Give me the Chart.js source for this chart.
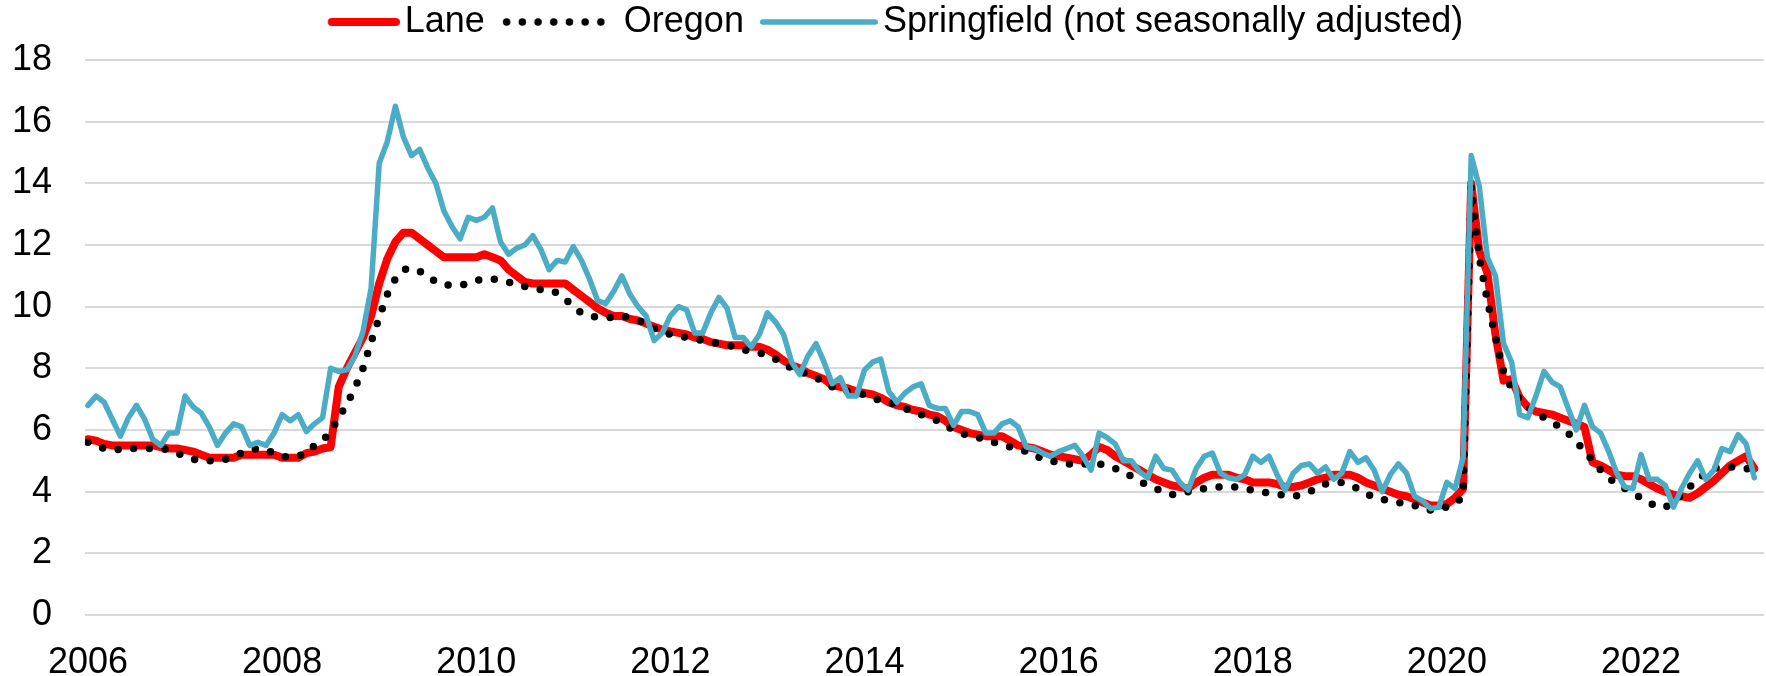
<!DOCTYPE html>
<html>
<head>
<meta charset="utf-8">
<script src="https://cdn.jsdelivr.net/npm/chart.js@4.4.1/dist/chart.umd.min.js"></script>
<style>
html,body{margin:0;padding:0;background:#ffffff;}
#wrap{width:1766px;height:676px;position:relative;}
</style>
</head>
<body>
<div id="wrap"><canvas id="c" width="1766" height="676"></canvas></div>
<script>
// Tick labels (one every two years, placed on January of that year)
const xTickLabels = ['2006','2008','2010','2012','2014','2016','2018','2020','2022'];

// Series (monthly, Jan 2006 - Mar 2023)
const lane = [
  5.7,5.65,5.55,5.5,5.5,5.5,5.5,5.5,5.5,5.45,5.4,5.4,
  5.35,5.3,5.2,5.1,5.1,5.1,5.1,5.2,5.2,5.2,5.2,5.2,
  5.1,5.1,5.1,5.25,5.3,5.4,5.45,7.4,8.0,8.5,9.0,9.7,
  10.75,11.55,12.1,12.4,12.4,12.2,12.0,11.8,11.6,11.6,11.6,11.6,
  11.6,11.7,11.6,11.5,11.2,11.0,10.8,10.75,10.75,10.75,10.75,10.75,
  10.55,10.35,10.15,9.95,9.8,9.7,9.7,9.6,9.55,9.45,9.35,9.25,
  9.2,9.15,9.1,9.0,8.95,8.85,8.8,8.75,8.75,8.75,8.7,8.7,
  8.6,8.45,8.25,8.1,8.0,7.85,7.75,7.65,7.45,7.4,7.35,7.25,
  7.2,7.15,7.05,6.9,6.8,6.75,6.65,6.6,6.5,6.45,6.3,6.1,
  6.0,5.9,5.85,5.8,5.8,5.8,5.65,5.5,5.45,5.4,5.3,5.2,
  5.15,5.1,5.05,5.0,5.2,5.45,5.35,5.15,5.0,4.85,4.7,4.55,
  4.4,4.3,4.2,4.15,4.1,4.3,4.45,4.55,4.55,4.55,4.45,4.4,
  4.3,4.3,4.3,4.25,4.15,4.15,4.2,4.3,4.4,4.45,4.55,4.55,
  4.55,4.45,4.3,4.2,4.1,4.0,3.9,3.85,3.75,3.65,3.55,3.55,
  3.6,3.8,4.1,14.0,11.8,11.1,9.1,7.6,7.65,7.05,6.75,6.6,
  6.55,6.5,6.4,6.3,6.2,6.1,4.95,4.85,4.7,4.55,4.5,4.5,
  4.4,4.25,4.1,4.0,3.9,3.85,3.8,3.95,4.15,4.35,4.6,4.85,
  5.0,5.15,4.75
];
const oregon = [
  5.6,5.5,5.4,5.4,5.35,5.4,5.4,5.4,5.4,5.4,5.35,5.25,
  5.15,5.05,5.0,5.0,5.0,5.05,5.15,5.25,5.35,5.4,5.35,5.25,
  5.15,5.1,5.15,5.25,5.5,5.65,5.95,6.4,6.85,7.35,8.0,8.85,
  9.65,10.4,10.9,11.2,11.25,11.15,11.0,10.8,10.7,10.7,10.7,10.75,
  10.85,10.9,10.9,10.85,10.8,10.7,10.65,10.6,10.55,10.55,10.45,10.25,
  10.0,9.8,9.7,9.65,9.65,9.65,9.7,9.65,9.55,9.45,9.3,9.2,
  9.1,9.05,9.0,8.95,8.9,8.85,8.8,8.75,8.7,8.6,8.55,8.5,
  8.4,8.3,8.15,8.0,7.9,7.8,7.7,7.55,7.4,7.3,7.25,7.2,
  7.15,7.05,6.95,6.9,6.8,6.7,6.6,6.5,6.4,6.3,6.15,6.0,
  5.9,5.8,5.75,5.7,5.6,5.5,5.45,5.4,5.3,5.2,5.05,5.0,
  4.95,4.9,4.9,4.9,4.9,4.9,4.85,4.75,4.65,4.5,4.35,4.2,
  4.1,4.0,3.9,3.95,4.0,4.05,4.1,4.15,4.15,4.15,4.15,4.1,
  4.05,4.0,3.95,3.9,3.9,3.85,3.9,4.0,4.1,4.25,4.3,4.3,
  4.2,4.1,3.95,3.8,3.75,3.7,3.65,3.6,3.55,3.45,3.4,3.45,
  3.5,3.6,3.85,13.9,11.6,10.2,9.0,7.9,7.35,7.0,6.75,6.55,
  6.4,6.25,6.1,5.9,5.6,5.35,5.0,4.7,4.45,4.25,4.1,3.95,
  3.8,3.65,3.5,3.5,3.65,3.9,4.15,4.4,4.6,4.75,4.8,4.8,
  4.8,4.75,4.7
];
const springfield = [
  6.8,7.1,6.9,6.35,5.8,6.4,6.8,6.35,5.7,5.5,5.9,5.9,
  7.1,6.75,6.55,6.1,5.5,5.9,6.2,6.1,5.5,5.6,5.5,5.9,
  6.5,6.3,6.5,5.95,6.2,6.4,8.0,7.9,7.95,8.4,9.2,10.6,
  14.65,15.35,16.5,15.5,14.9,15.1,14.5,14.0,13.1,12.6,12.2,12.9,
  12.8,12.9,13.2,12.1,11.7,11.9,12.0,12.3,11.85,11.2,11.5,11.45,
  11.95,11.5,10.9,10.2,10.1,10.5,11.0,10.4,10.0,9.7,8.9,9.15,
  9.7,10.0,9.9,9.15,9.15,9.8,10.3,9.95,9.0,9.0,8.7,9.1,
  9.8,9.5,9.1,8.2,7.8,8.4,8.8,8.2,7.5,7.7,7.1,7.1,
  7.95,8.2,8.3,7.25,6.9,7.2,7.4,7.5,6.8,6.7,6.7,6.15,
  6.6,6.6,6.5,5.9,5.9,6.2,6.3,6.1,5.45,5.4,5.25,5.15,
  5.3,5.4,5.5,5.15,4.7,5.9,5.75,5.55,5.0,5.0,4.65,4.45,
  5.15,4.75,4.7,4.3,4.05,4.75,5.15,5.25,4.6,4.45,4.4,4.55,
  5.15,4.95,5.15,4.55,4.05,4.6,4.85,4.9,4.6,4.8,4.4,4.6,
  5.3,4.95,5.1,4.7,4.0,4.55,4.9,4.6,3.85,3.7,3.45,3.5,
  4.3,4.1,5.1,14.9,13.9,11.6,11.0,8.8,8.2,6.5,6.4,7.1,
  7.9,7.55,7.4,6.7,6.0,6.8,6.1,5.9,5.3,4.6,4.15,4.1,
  5.2,4.4,4.4,4.2,3.5,4.1,4.6,5.0,4.4,4.7,5.4,5.3,
  5.85,5.55,4.45
];
const seriesNames = ['Lane','Oregon','Springfield (not seasonally adjusted)'];

const FONT = "'Liberation Sans', Arial, sans-serif";
Chart.defaults.font.family = FONT;
Chart.defaults.color = '#000000';

const toPoints = arr => arr.map((v, i) => ({x: i, y: v}));

// Legend sample images (a line sample that sits close to its text)
const LEGEND_BOX = 100;           // slot reserved by Chart.js for the sample
const SAMPLE_IMG_W = 126;         // image spans slot-13 .. slot+113
function makeSample(ds, startX) {
  const cv = document.createElement('canvas');
  cv.width = SAMPLE_IMG_W; cv.height = 14;
  const g = cv.getContext('2d');
  g.strokeStyle = ds.borderColor;
  g.lineWidth = ds.borderWidth;
  g.lineCap = ds.borderDash ? 'round' : 'round';
  g.setLineDash(ds.borderDash || []);
  g.beginPath();
  const pad = ds.borderWidth / 2;
  g.moveTo(startX + pad, 7);
  g.lineTo(SAMPLE_IMG_W - pad, 7);
  g.stroke();
  return cv;
}

// Legend placement tweaks: keeps the text near the top and the plot area starting at y = 60.
const legendAdjust = {
  id: 'legendAdjust',
  beforeInit(chart) {
    const orig = chart.legend.fit;
    chart.legend.fit = function () { orig.call(this); this.height -= 7; };
  },
  afterLayout(chart) {
    const lg = chart.legend;
    lg.top -= 17; lg.bottom -= 17;
    lg.left -= 7; lg.right -= 7;
  }
};

const datasets = [
  { label: seriesNames[0], data: toPoints(lane), borderColor: '#FF0000', backgroundColor: '#FF0000',
    borderWidth: 8, borderJoinStyle: 'round', borderCapStyle: 'round', pointRadius: 0, pointHoverRadius: 0, tension: 0, order: 2 },
  { label: seriesNames[1], data: toPoints(oregon), borderColor: '#000000', backgroundColor: '#000000',
    borderWidth: 7.5, borderDash: [0, 15.7], borderCapStyle: 'round', borderJoinStyle: 'round', pointRadius: 0, pointHoverRadius: 0, tension: 0, order: 1 },
  { label: seriesNames[2], data: toPoints(springfield), borderColor: '#4BACC6', backgroundColor: '#4BACC6',
    borderWidth: 5.5, borderJoinStyle: 'round', borderCapStyle: 'round', pointRadius: 0, pointHoverRadius: 0, tension: 0, order: 0 }
];
const sampleImages = [
  makeSample(datasets[0], 54),
  makeSample(datasets[1], 10),
  makeSample(datasets[2], 8)
];

new Chart(document.getElementById('c'), {
  type: 'line',
  data: { datasets },
  options: {
    responsive: false,
    animation: false,
    events: [],
    layout: { padding: { left: 0, right: 2, top: 0, bottom: 0 } },
    scales: {
      x: {
        type: 'linear', min: -0.37, max: 207.2,
        grid: { display: false, drawTicks: false },
        border: { display: false },
        afterBuildTicks(axis) { axis.ticks = xTickLabels.map(t => ({ value: (Number(t) - 2006) * 12 })); },
        afterFit(axis) { axis.height = 61; },
        ticks: {
          autoSkip: false, maxRotation: 0, padding: 26, color: '#000000',
          font: { family: FONT, size: 36 },
          callback: (v) => String(2006 + Math.round(v / 12))
        }
      },
      y: {
        min: 0, max: 18,
        grid: { color: '#D9D9D9', lineWidth: 2, drawTicks: false },
        border: { display: false },
        afterFit(axis) { axis.width = 85; },
        ticks: { stepSize: 2, padding: 33, color: '#000000', font: { family: FONT, size: 36 } }
      }
    },
    plugins: {
      tooltip: { enabled: false },
      legend: {
        position: 'top',
        labels: {
          usePointStyle: true, pointStyleWidth: LEGEND_BOX, padding: 21,
          color: '#000000', font: { family: FONT, size: 36 },
          sort: (a, b) => a.datasetIndex - b.datasetIndex,
          generateLabels(chart) {
            const items = Chart.defaults.plugins.legend.labels.generateLabels(chart);
            items.forEach(it => {
              const ds = chart.data.datasets[it.datasetIndex];
              it.pointStyle = sampleImages[it.datasetIndex];
              it.lineWidth = ds.borderWidth;
              it.strokeStyle = ds.borderColor;
              it.fillStyle = ds.borderColor;
            });
            return items;
          }
        }
      }
    }
  },
  plugins: [legendAdjust]
});
</script>
</body>
</html>
